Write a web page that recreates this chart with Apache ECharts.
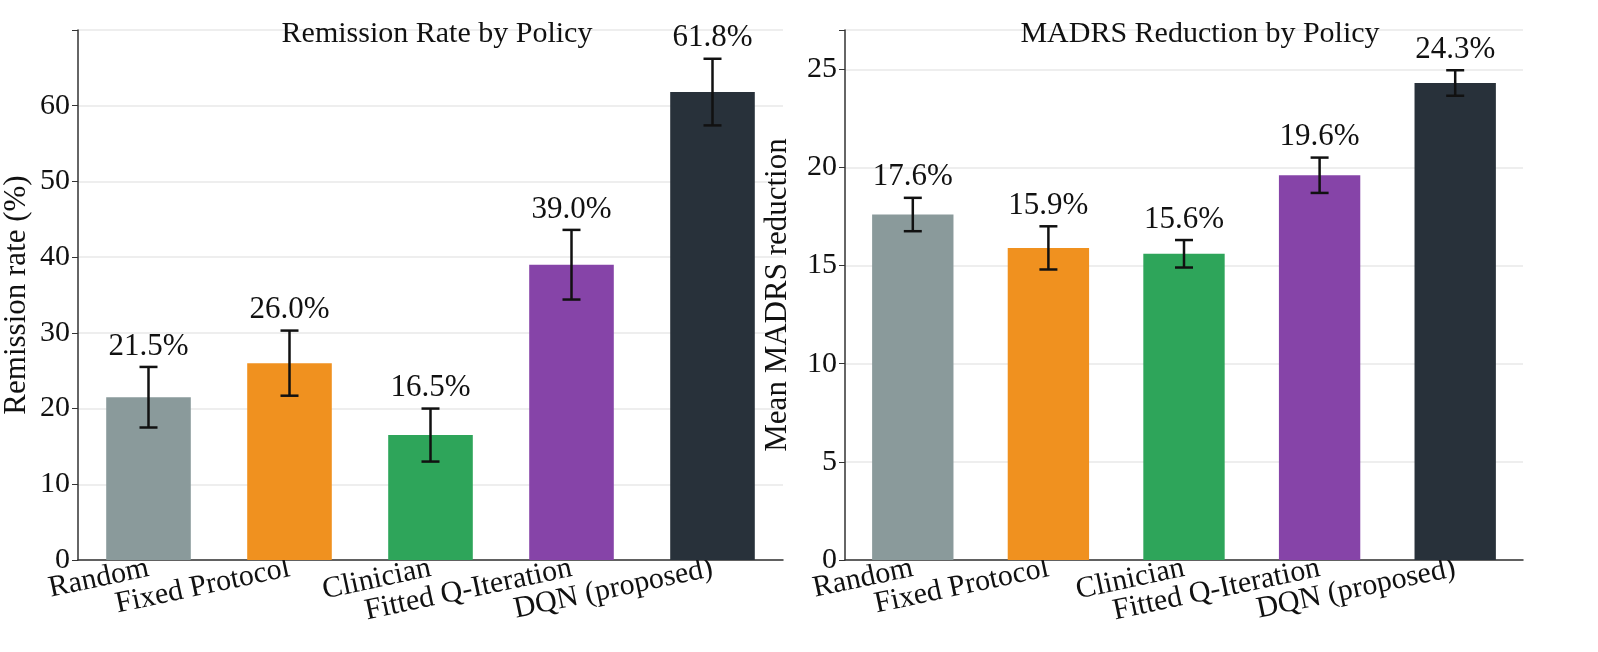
<!DOCTYPE html>
<html><head><meta charset="utf-8">
<script src="https://cdn.jsdelivr.net/npm/echarts@6/dist/echarts.min.js"></script>
<style>html,body{margin:0;background:#fff}#c{width:1598px;height:652px}</style>
</head><body><div id="c"></div>
<script>
// 策略类别
var policies = ['Random', 'Fixed Protocol', 'Clinician', 'Fitted Q-Iteration', 'DQN (proposed)'];
var colors = ['#8a9a9b', '#f0911f', '#2ea55a', '#8644a8', '#28313a'];
// 缓解率
var remission = [21.5, 26.0, 16.5, 39.0, 61.8];
var remissionErr = [4.0, 4.3, 3.5, 4.6, 4.4];
// MADRS 下降
var madrs = [17.6, 15.9, 15.6, 19.6, 24.3];
var madrsErr = [0.85, 1.1, 0.7, 0.9, 0.65];

var font = 'Liberation Serif';

function barSeries(idx, vals) {
    return {
        type: 'bar', xAxisIndex: idx, yAxisIndex: idx, barWidth: '60%',
        data: vals.map(function (v, i) { return { value: v, itemStyle: { color: colors[i] } }; })
    };
}

function errSeries(idx, vals, errs) {
    return {
        type: 'custom', xAxisIndex: idx, yAxisIndex: idx, z: 10,
        data: vals.map(function (v, i) { return [i, v - errs[i], v + errs[i], v]; }),
        renderItem: function (params, api) {
            var lo = api.coord([api.value(0), api.value(1)]);
            var hi = api.coord([api.value(0), api.value(2)]);
            var w = 9;
            var st = { stroke: '#111', lineWidth: 2.5 };
            return {
                type: 'group', children: [
                    { type: 'line', shape: { x1: lo[0], y1: lo[1], x2: hi[0], y2: hi[1] }, style: st },
                    { type: 'line', shape: { x1: lo[0] - w, y1: lo[1], x2: lo[0] + w, y2: lo[1] }, style: st },
                    { type: 'line', shape: { x1: hi[0] - w, y1: hi[1], x2: hi[0] + w, y2: hi[1] }, style: st },
                    { type: 'text', style: { x: hi[0], y: hi[1] - 5, text: api.value(3).toFixed(1) + '%', align: 'center', verticalAlign: 'bottom', font: '31px "' + font + '"', fill: '#111' } }
                ]
            };
        }
    };
}

function xAxis(idx) {
    return {
        type: 'category', gridIndex: idx, data: policies,
        axisLine: { lineStyle: { color: '#333', width: 1.5 } }, axisTick: { show: false },
        axisLabel: { rotate: 12, interval: 0, fontFamily: font, fontSize: 30, color: '#111', margin: 8 }
    };
}

function yAxis(idx, max, step, top, name, gap) {
    return {
        type: 'value', gridIndex: idx, min: 0, max: max, interval: step,
        name: name, nameLocation: 'middle', nameGap: gap,
        nameTextStyle: { fontFamily: font, fontSize: 31, color: '#111' },
        axisLine: { show: true, lineStyle: { color: '#333', width: 1.5 } },
        axisTick: { show: true, length: 6, lineStyle: { color: '#333' } },
        axisLabel: {
            fontFamily: font, fontSize: 30, color: '#111',
            formatter: function (v) { return v <= top ? v : ''; }
        },
        splitLine: { lineStyle: { color: '#e8e8e8', width: 1.5 } }
    };
}

var chart = echarts.init(document.getElementById('c'));
chart.setOption({
    animation: false,
    title: [
        { text: 'Remission Rate by Policy', left: 432, top: 14, textAlign: 'center', textStyle: { fontFamily: font, fontSize: 30, fontWeight: 'normal', color: '#111' } },
        { text: 'MADRS Reduction by Policy', left: 1195, top: 14, textAlign: 'center', textStyle: { fontFamily: font, fontSize: 30, fontWeight: 'normal', color: '#111' } }
    ],
    grid: [
        { left: 78, right: 815, top: 30, bottom: 92 },
        { left: 845, right: 75, top: 30, bottom: 92 }
    ],
    xAxis: [xAxis(0), xAxis(1)],
    yAxis: [yAxis(0, 70, 10, 60, 'Remission rate (%)', 46), yAxis(1, 27, 5, 25, 'Mean MADRS reduction', 52)],
    series: [barSeries(0, remission), errSeries(0, remission, remissionErr),
             barSeries(1, madrs), errSeries(1, madrs, madrsErr)]
});
</script></body></html>
